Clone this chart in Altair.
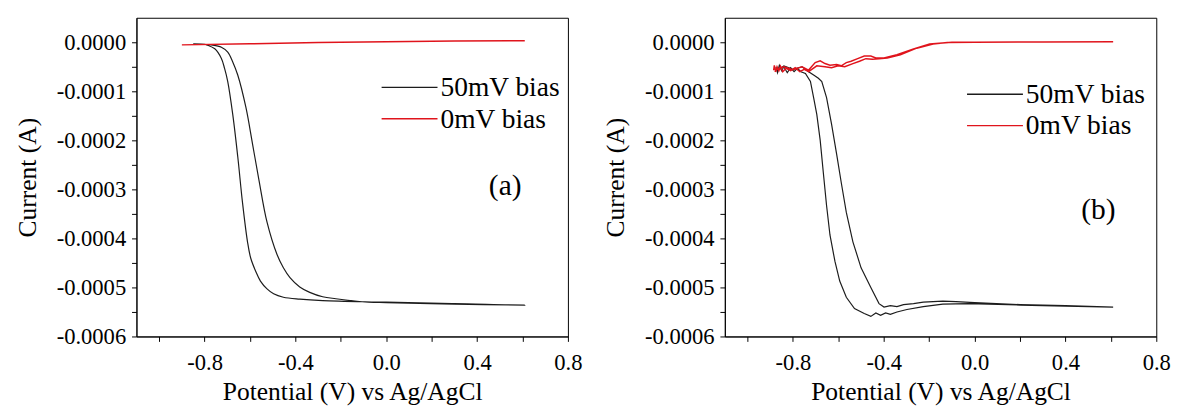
import altair as alt
import pandas as pd

SERIES = ["50mV bias", "0mV bias"]
COLORS = ["#1c1c1c", "#e0141c"]
PANELS = ["(a)", "(b)"]

X_TICKS = [-1.0, -0.8, -0.6, -0.4, -0.2, 0.0, 0.2, 0.4, 0.6, 0.8]
Y_TICKS = [-0.0006, -0.00055, -0.0005, -0.00045, -0.0004, -0.00035, -0.0003,
           -0.00025, -0.0002, -0.00015, -0.0001, -0.00005, 0.0]

# ---- panel (a) ----
A_BLACK_X = [-0.85, -0.80, -0.79, -0.755, -0.726, -0.712, -0.698, -0.676, -0.654, -0.633,
             -0.611, -0.597, -0.575, -0.554, -0.525, -0.496, -0.453, -0.381, -0.28, 0.0,
             0.3, 0.61,
             0.3, 0.0, -0.078, -0.222, -0.28, -0.337, -0.381, -0.424, -0.453, -0.481,
             -0.525, -0.561, -0.589, -0.618, -0.654, -0.676, -0.698, -0.726, -0.770, -0.80]
A_BLACK_Y = [-0.000003, -0.000004, -0.0000053, -0.0000133, -0.000033, -0.0000533, -0.00008,
             -0.000147, -0.000233, -0.000327, -0.000407, -0.00044, -0.000467, -0.000487,
             -0.000503, -0.000513, -0.00052, -0.000524, -0.000527, -0.00053, -0.000533,
             -0.000536,
             -0.000534, -0.000531, -0.00053, -0.000523, -0.000519, -0.00051, -0.000499,
             -0.00048, -0.00046, -0.000433, -0.000367, -0.00028, -0.000207, -0.000133,
             -0.0000667, -0.00004, -0.00002, -0.00001, -0.0000053, -0.000004]
A_RED_X = [-0.9, -0.6, -0.3, 0.0, 0.3, 0.61]
A_RED_Y = [-0.0000053, -0.000003, -0.0000005, 0.0000012, 0.0000025, 0.0000033]

# ---- panel (b) ----
B_BLACK_X = [-0.875, -0.868, -0.86, -0.85, -0.84, -0.825, -0.81, -0.795, -0.78, -0.765,
             -0.745, -0.723, -0.709, -0.695, -0.68, -0.666, -0.652, -0.637, -0.615, -0.594,
             -0.565, -0.529, -0.486, -0.457, -0.435, -0.414, -0.392, -0.371, -0.342, -0.298,
             -0.226, -0.14, -0.025, 0.2, 0.4, 0.61,
             0.4, 0.2, 0.0, -0.082, -0.14, -0.226, -0.269, -0.313, -0.342, -0.371, -0.399,
             -0.421, -0.457, -0.5, -0.536, -0.565, -0.587, -0.608, -0.63, -0.652, -0.673,
             -0.688, -0.709, -0.731, -0.76, -0.8, -0.84, -0.87]
B_BLACK_Y = [-0.00005, -0.000062, -0.000047, -0.000058, -0.00005, -0.000062, -0.000052,
             -0.00006, -0.000053, -0.00006,
             -0.0000634, -0.00008, -0.000113, -0.000147, -0.0002, -0.000267, -0.000333,
             -0.000393, -0.000447, -0.000487, -0.00052, -0.000543, -0.000553, -0.000559,
             -0.000552, -0.000557, -0.000552, -0.000555, -0.00055, -0.000545, -0.000539,
             -0.000534, -0.000533, -0.000536, -0.000538, -0.00054,
             -0.000537, -0.000535, -0.000531, -0.000529, -0.000528, -0.00053, -0.000533,
             -0.000535, -0.000539, -0.000537, -0.00054, -0.000533, -0.0005, -0.00046,
             -0.000407, -0.000347, -0.000287, -0.000227, -0.000167, -0.000113, -0.00008,
             -0.0000734, -0.0000667, -0.00006, -0.00005, -0.000055, -0.000048, -0.000058]
B_RED_X = [-0.885, -0.882, -0.876, -0.87, -0.862, -0.855, -0.845, -0.83, -0.81, -0.79,
           -0.77, -0.75,
           -0.731, -0.695, -0.659, -0.63, -0.601, -0.572, -0.536, -0.507, -0.479, -0.45,
           -0.421, -0.385, -0.327, -0.255, -0.183, -0.12, 0.0, 0.3, 0.61,
           0.3, 0.0, -0.1, -0.198, -0.269, -0.342, -0.399, -0.435, -0.457, -0.486, -0.515,
           -0.544, -0.565, -0.587, -0.608, -0.637, -0.659, -0.68, -0.702, -0.731,
           -0.76, -0.80, -0.84, -0.87, -0.88]
B_RED_Y = [-0.000057, -0.000047, -0.00006, -0.00005, -0.000058, -0.000049, -0.00006,
           -0.000053, -0.000058, -0.000052, -0.00006, -0.000055,
           -0.00006, -0.000048, -0.00005, -0.000052, -0.000048, -0.00005, -0.0000434,
           -0.0000386, -0.0000334, -0.0000346, -0.0000334, -0.000032, -0.0000254,
           -0.000012, -0.0000034, -0.0000005, 0.0, 0.0000005, 0.000001,
           0.0000008, 0.0000003, 0.0, -0.0000034, -0.0000134, -0.0000254, -0.000032,
           -0.000032, -0.000028, -0.000028, -0.0000334, -0.0000386, -0.0000414, -0.000048,
           -0.0000454, -0.0000466, -0.0000434, -0.000038, -0.0000414, -0.0000566,
           -0.00005, -0.000056, -0.00005, -0.000055, -0.00006]

FONT = "Liberation Serif, Times New Roman, serif"
W, H = 440, 325

X_LABEL = ("abs(round(datum.value*10)) % 4 == 0 ? ((datum.value < -1e-9 ? '-' : '') + "
           "format(abs(datum.value), '.1f')) : ''")
Y_LABEL = ("abs(round(datum.value*20000)) % 2 == 0 ? ((datum.value < -1e-12 ? '-' : '') + "
           "format(abs(datum.value), '.4f')) : ''")


def line_df(xs, ys):
    return pd.DataFrame({"x": xs, "y": ys, "o": list(range(len(xs)))})


def panel(bx, by, rx, ry, letter, leg_x, leg_y, let_x, let_y, interp):
    xenc = alt.X("x:Q", scale=alt.Scale(domain=[-1.1, 0.8], nice=False, zero=False),
                 axis=alt.Axis(values=X_TICKS, labelExpr=X_LABEL,
                               title="Potential (V) vs Ag/AgCl"))
    yenc = alt.Y("y:Q", scale=alt.Scale(domain=[-0.0006, 0.00005], nice=False, zero=False),
                 axis=alt.Axis(values=Y_TICKS, labelExpr=Y_LABEL, title="Current (A)"))
    black = alt.Chart(line_df(bx, by)).mark_line(
        color=COLORS[0], strokeWidth=1.2, interpolate=interp).encode(
        x=xenc, y=yenc, order="o:Q")
    red = alt.Chart(line_df(rx, ry)).mark_line(
        color=COLORS[1], strokeWidth=1.5, interpolate="linear").encode(
        x=xenc, y=yenc, order="o:Q")
    layers = [black, red]
    for i, s in enumerate(SERIES):
        d = pd.DataFrame({"label": [s]})
        yy = leg_y + 32 * i
        layers.append(alt.Chart(d).mark_rule(color=COLORS[i], strokeWidth=1.4).encode(
            x=alt.value(leg_x), x2=alt.value(leg_x + 57), y=alt.value(yy)))
        layers.append(alt.Chart(d).mark_text(
            align="left", baseline="middle", font=FONT, fontSize=28, color="black").encode(
            x=alt.value(leg_x + 60), y=alt.value(yy + 1), text="label:N"))
    layers.append(alt.Chart(pd.DataFrame({"t": [letter]})).mark_text(
        align="center", baseline="middle", font=FONT, fontSize=30, color="black").encode(
        x=alt.value(let_x), y=alt.value(let_y), text="t:N"))
    return alt.layer(*layers).properties(width=W, height=H)


pa = panel(A_BLACK_X, A_BLACK_Y, A_RED_X, A_RED_Y, PANELS[0], 250, 71, 376, 172,
           "catmull-rom")
pb = panel(B_BLACK_X, B_BLACK_Y, B_RED_X, B_RED_Y, PANELS[1], 247, 78, 381, 196,
           "linear")

chart = alt.hconcat(pa, pb, spacing=20).properties(
    padding={"left": 6, "top": 5, "right": 0, "bottom": 0}
).configure_view(stroke="black", strokeWidth=1).configure_axis(
    grid=False, domainColor="black", tickColor="black", tickSize=5, tickWidth=1,
    labelFont=FONT, labelFontSize=23, labelColor="black",
    labelFlush=False, labelOverlap=False, labelBound=False,
    titleFont=FONT, titleFontSize=26, titleFontWeight="normal", titleColor="black",
).configure_axisX(labelPadding=11, titlePadding=4).configure_axisY(
    labelPadding=6, titlePadding=16)

chart.save("out.html", embed_options={"renderer": "svg", "actions": False})
